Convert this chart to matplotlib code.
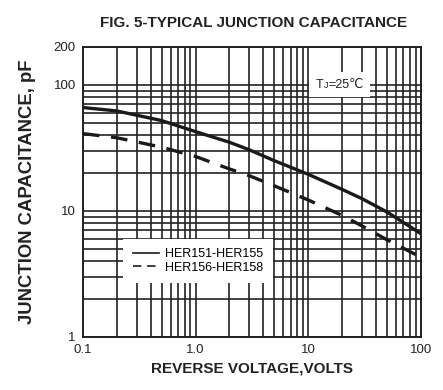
import matplotlib
matplotlib.use("Agg")
import matplotlib.pyplot as plt
from matplotlib.ticker import LogLocator, FixedLocator, NullFormatter
from matplotlib.offsetbox import TextArea, HPacker, AnchoredOffsetbox

plt.rcParams['font.family'] = ['Liberation Sans', 'DejaVu Sans']

# data (reverse voltage V, capacitance pF)
volts_a = [0.1, 0.2, 0.5, 1, 2, 3, 5, 10, 20, 30, 50, 100]
cap_a = [66, 62, 52, 42.5, 35, 30.5, 25, 19.5, 14.8, 12.5, 9.8, 6.6]   # HER151-HER155
volts_b = [0.1, 0.2, 0.5, 1, 2, 3, 5, 10, 20, 30, 50, 90]
cap_b = [41, 38, 32, 27, 21.5, 19, 15.8, 12.2, 9.2, 7.6, 5.9, 4.5]     # HER156-HER158

xticks = [0.1, 1, 10, 100]
xticklabels = ["0.1", "1.0", "10", "100"]
yticks = [1, 10, 100, 200]
yticklabels = ["1", "10", "100", "200"]

fig = plt.figure(figsize=(4.43, 3.90), dpi=100)
ax = fig.add_axes([0.187, 0.136, 0.763, 0.744])
ax.set_xscale('log')
ax.set_yscale('log')
ax.set_xlim(0.1, 100)
ax.set_ylim(1, 200)

# grid: every minor decade line, nothing above 100
ax.xaxis.set_major_locator(FixedLocator(xticks))
ax.xaxis.set_minor_locator(LogLocator(base=10, subs=range(2, 10)))
ax.xaxis.set_minor_formatter(NullFormatter())
ax.yaxis.set_major_locator(FixedLocator(yticks))
ax.yaxis.set_minor_locator(FixedLocator([2, 3, 4, 5, 6, 7, 8, 9,
                                         20, 30, 40, 50, 60, 70, 80, 90]))
ax.yaxis.set_minor_formatter(NullFormatter())
ax.set_xticklabels(xticklabels)
ax.set_yticklabels(yticklabels)
ax.grid(True, which='both', color='#222222', linewidth=1.2)
ax.tick_params(which='both', length=0, labelsize=9.5, colors='#222222', pad=5)
for s in ax.spines.values():
    s.set_linewidth(1.4)
    s.set_color('#222222')

ax.plot(volts_a, cap_a, color='#1a1a1a', linewidth=2.4, label='HER151-HER155', zorder=3)
ax.plot(volts_b, cap_b, color='#1a1a1a', linewidth=2.4, dashes=(5, 3.5),
        label='HER156-HER158', zorder=3)

leg = ax.legend(loc='lower left', bbox_to_anchor=(0.12, 0.186), fontsize=9,
                frameon=True, fancybox=False, handlelength=2.1, labelspacing=0.1,
                borderpad=0.75, handletextpad=0.5, borderaxespad=0)
leg.get_frame().set_edgecolor('none')
leg.get_frame().set_facecolor('white')
leg.get_frame().set_alpha(1)
for ln in leg.get_lines():
    ln.set_linewidth(1.2)

# T with small J, then =25 degC, on a white patch
tj = HPacker(children=[TextArea("T", textprops=dict(fontsize=9, color='#222222')),
                       TextArea("J", textprops=dict(fontsize=6.5, color='#222222')),
                       TextArea("=25℃", textprops=dict(fontsize=9, color='#222222'))],
             align='baseline', pad=0, sep=0)
box = AnchoredOffsetbox(loc='center', child=tj, bbox_to_anchor=(0.76, 0.87),
                        bbox_transform=ax.transAxes, frameon=True, pad=0.5, borderpad=0)
box.patch.set_edgecolor('none')
box.patch.set_facecolor('white')
box.set_zorder(4)
ax.add_artist(box)

fig.text(0.573, 0.94, "FIG. 5-TYPICAL JUNCTION CAPACITANCE", ha='center', va='center',
         fontsize=11, fontweight='bold', color='#222222')
ax.set_xlabel("REVERSE VOLTAGE,VOLTS", fontsize=11, fontweight='bold', color='#222222',
              labelpad=4)
ax.set_ylabel("JUNCTION CAPACITANCE, pF", fontsize=13.3, fontweight='bold', color='#222222',
              labelpad=13)

fig.savefig("out.png", dpi=100)
